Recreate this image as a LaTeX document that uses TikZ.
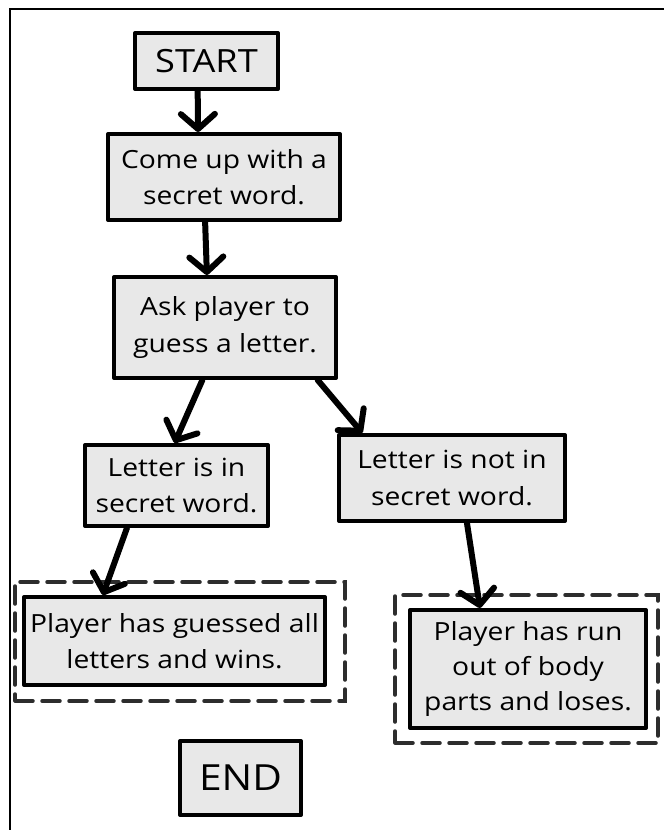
\documentclass[tikz,border=0pt]{standalone}
\usepackage{fontspec}
\setmainfont[FakeStretch=1.13]{Open Sans}
\usetikzlibrary{arrows.meta,calc}
\definecolor{boxfill}{RGB}{232,232,232}
\definecolor{dashcol}{RGB}{45,45,45}
\tikzset{
  flowbox/.style={draw=black, fill=boxfill, line width=4pt, line join=round,
    inner sep=0pt, align=center, font=\fontsize{25}{36.5}\selectfont},
  dashbox/.style={draw=dashcol, line width=3.5pt, dash pattern=on 18pt off 9pt,
    line cap=round, inner sep=0pt},
  arr/.style={line width=6pt, line cap=round, draw=black,
    -{Straight Barb[length=15pt,width=34pt,line width=6pt,line cap=round,line join=round]}},
  frameline/.style={line width=2pt, draw=black}
}
\begin{document}
\begin{tikzpicture}[x=1pt,y=-1pt]
\useasboundingbox (0,0) rectangle (664,830);
\draw[frameline] (10,830) -- (10,9) -- (664,9);

\node[dashbox, minimum width=330pt, minimum height=119pt] (winframe) at (180,641.5) {};
\node[dashbox, minimum width=263pt, minimum height=148pt] (loseframe) at (526.5,669) {};

\node[flowbox, minimum width=143pt, minimum height=56pt, font=\fontsize{32}{38}\selectfont] (start) at (206.5,61) {START};
\node[flowbox, minimum width=232pt, minimum height=86pt] (come) at (224,177) {Come up with a\\secret word.};
\node[flowbox, minimum width=222pt, minimum height=101pt] (ask) at (225,327.5) {Ask player to\\guess a letter.};
\node[flowbox, minimum width=183pt, minimum height=81pt] (lin) at (176.5,485.5) {Letter is in\\secret word.};
\node[flowbox, minimum width=226pt, minimum height=86pt] (lnot) at (452,478) {Letter is not in\\secret word.};
\node[flowbox, minimum width=301pt, minimum height=88pt] (win) at (174.5,641) {Player has guessed all\\letters and wins.};
\node[flowbox, minimum width=236pt, minimum height=118pt, font=\fontsize{25}{35}\selectfont] (lose) at (528,669) {Player has run\\out of body\\parts and loses.};
\node[flowbox, minimum width=121pt, minimum height=74pt, font=\fontsize{36}{42}\selectfont] (end) at (240.5,778) {END};

\draw[arr] ($(start.south west)!0.44!(start.south east)$) -- ($(come.north west)!0.39!(come.north east)$);
\draw[arr] ($(come.south west)!0.42!(come.south east)$) -- ($(ask.north west)!0.42!(ask.north east)$);
\draw[arr] ($(ask.south west)!0.40!(ask.south east)$) -- ($(lin.north west)!0.49!(lin.north east)$);
\draw[arr] ($(ask.south west)!0.91!(ask.south east)$) -- ($(lnot.north west)!0.11!(lnot.north east)$);
\draw[arr] ($(lin.south west)!0.235!(lin.south east)$) -- ($(win.north west)!0.265!(win.north east)$);
\draw[arr] ($(lnot.south west)!0.565!(lnot.south east)$) -- ($(lose.north west)!0.30!(lose.north east)$);
\end{tikzpicture}
\end{document}
